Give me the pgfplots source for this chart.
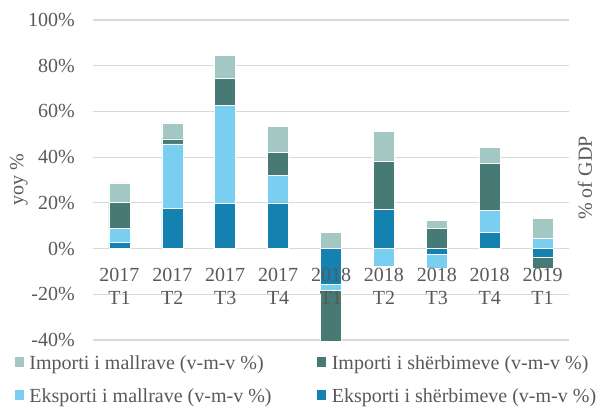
\documentclass[border=0pt]{standalone}
\usepackage{fontspec}
\setmainfont{Liberation Serif}
\usepackage{pgfplots}
\usepackage{pgfplotstable}
\pgfplotsset{compat=1.18}
\definecolor{cIM}{RGB}{163,200,196}
\definecolor{cIS}{RGB}{71,122,117}
\definecolor{cEM}{RGB}{122,206,240}
\definecolor{cES}{RGB}{20,129,176}
\definecolor{txt}{RGB}{89,89,89}
\definecolor{grd}{RGB}{217,217,217}

% positive and negative parts of each series (Excel stacks them separately)
\pgfplotstableread{
x ESp  EMp  ISp  IMp  ESn   EMn  ISn
0 2.6  6.1  11.4 8.6  0     0    0
1 17.6 28.2 2.2  7.0  0     0    0
2 19.8 42.9 11.6 10.3 0     0    0
3 20.0 11.9 10.2 11.2 0     0    0
4 0    0    0    7.1  -15.8 -2.6 -30
5 17.2 0    20.9 13.0 0     -7.6 0
6 0    0    8.9  3.4  -2.6  -5.9 0
7 7.1  9.5  20.6 7.0  0     0    0
8 0    4.7  0    8.6  -3.8  0    -4.7
}\data

\pgfplotsset{
  base/.style={
    scale only axis, width=476bp, height=320bp,
    xmin=-0.5, xmax=8.5, ymin=-40, ymax=100,
    axis line style={draw=none}, tick style={draw=none},
    ybar stacked, bar width=21bp,
  },
  bars/.style={fill=#1, draw=white, line width=0.6bp},
}

\begin{document}
\begin{tikzpicture}
\path[use as bounding box] (-93bp,-67bp) rectangle (511bp,340bp);

\begin{axis}[base,
  ytick={-40,-20,...,100},
  yticklabels={-40\%,-20\%,0\%,20\%,40\%,60\%,80\%,100\%},
  ymajorgrids, grid style={grd, line width=1.2bp},
  xtick=\empty,
  yticklabel style={font=\fontsize{20bp}{24bp}\selectfont, text=txt, inner sep=0pt, xshift=-18bp},
]
\addplot[bars=cES] table[x=x,y=ESp]{\data};
\addplot[bars=cEM] table[x=x,y=EMp]{\data};
\addplot[bars=cIS] table[x=x,y=ISp]{\data};
\addplot[bars=cIM] table[x=x,y=IMp]{\data};
\end{axis}

\begin{axis}[base, axis on top,
  ytick=\empty,
  xtick={0,...,8},
  xticklabels={{2017\\T1},{2017\\T2},{2017\\T3},{2017\\T4},{2018\\T1},{2018\\T2},{2018\\T3},{2018\\T4},{2019\\T1}},
  xticklabel style={align=center, font=\fontsize{20bp}{23.5bp}\selectfont, text=txt, inner sep=0pt, anchor=north, yshift=72.5bp},
  legend columns=2, legend cell align=left,
  legend style={draw=none, fill=none, at={(0,0)}, anchor=north west, xshift=-78bp, yshift=-15bp,
    inner sep=0pt, outer sep=0pt, column sep=3bp, row sep=14bp,
    font=\fontsize{20bp}{24bp}\selectfont, text=txt,
    nodes={inner xsep=3bp, inner ysep=0pt, text height=14bp, text depth=5bp}},
]
\addlegendimage{legend image code/.code={\fill[cIM] (0bp,-2bp) rectangle (8bp,7bp);}}
\addlegendentry{\makebox[282bp][l]{Importi i mallrave (v-m-v \%)}}
\addlegendimage{legend image code/.code={\fill[cIS] (0bp,-2bp) rectangle (8bp,7bp);}}
\addlegendentry{Importi i shërbimeve (v-m-v \%)}
\addlegendimage{legend image code/.code={\fill[cEM] (0bp,-2bp) rectangle (8bp,7bp);}}
\addlegendentry{\makebox[282bp][l]{Eksporti i mallrave (v-m-v \%)}}
\addlegendimage{legend image code/.code={\fill[cES] (0bp,-2bp) rectangle (8bp,7bp);}}
\addlegendentry{Eksporti i shërbimeve (v-m-v \%)}
\addplot[bars=cES, forget plot] table[x=x,y=ESn]{\data};
\addplot[bars=cEM, forget plot] table[x=x,y=EMn]{\data};
\addplot[bars=cIS, forget plot] table[x=x,y=ISn]{\data};
\end{axis}

\node[rotate=90, text=txt, font=\fontsize{20bp}{24bp}\selectfont] at (-74bp,160bp) {yoy \%};
\node[rotate=90, text=txt, font=\fontsize{20bp}{24bp}\selectfont] at (492bp,162bp) {\% of GDP};
\end{tikzpicture}
\end{document}
